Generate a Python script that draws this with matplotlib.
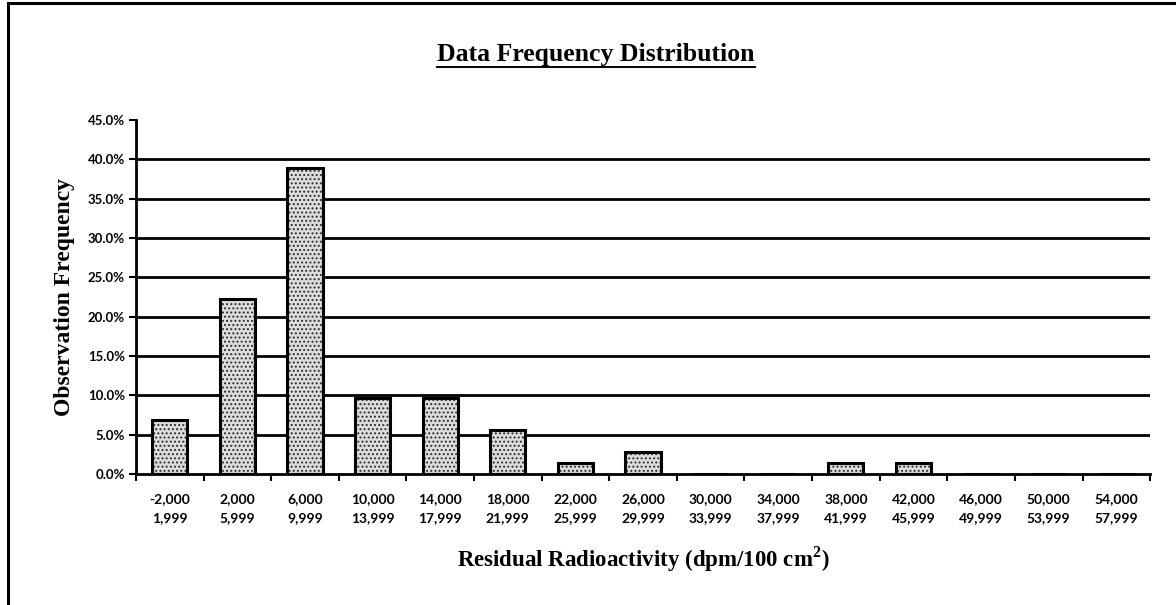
import matplotlib

matplotlib.use("Agg")
import matplotlib.pyplot as plt
from matplotlib.lines import Line2D
from matplotlib.patches import Rectangle

# Bin labels (lower / upper bound of each 4,000 dpm bin)
bin_low = ["-2,000", "2,000", "6,000", "10,000", "14,000", "18,000", "22,000",
           "26,000", "30,000", "34,000", "38,000", "42,000", "46,000",
           "50,000", "54,000"]
bin_high = ["1,999", "5,999", "9,999", "13,999", "17,999", "21,999", "25,999",
            "29,999", "33,999", "37,999", "41,999", "45,999", "49,999",
            "53,999", "57,999"]
# Observation frequency per bin, in percent
freq = [6.9, 22.2, 38.9, 9.7, 9.7, 5.6, 1.4, 2.8, 0.0, 0.0, 1.4, 1.4,
        0.0, 0.0, 0.0]
y_ticks = [0, 5, 10, 15, 20, 25, 30, 35, 40, 45]

serif = "Liberation Serif"
tickfont = "Lato"
plt.rcParams["hatch.linewidth"] = 0.9
plt.rcParams["mathtext.fontset"] = "custom"
plt.rcParams["mathtext.bf"] = "Liberation Serif:bold"
plt.rcParams["mathtext.rm"] = "Liberation Serif:bold"

fig = plt.figure(figsize=(11.76, 6.05), dpi=100)
ax = fig.add_axes([0.1156, 0.2165, 0.8624, 0.5852])

x = list(range(len(freq)))

# gridlines behind the bars, skipping the top one
for v in y_ticks[1:-1]:
    ax.axhline(v, color="black", lw=2.0, zorder=1)

# stippled fill, then a heavy outline on top
ax.bar(x, freq, width=0.52, facecolor="#dcdcdc", edgecolor="#2a2a2a",
       hatch="....", linewidth=0, zorder=2)
ax.bar(x, freq, width=0.52, facecolor="none", edgecolor="black",
       linewidth=2.2, zorder=3)

ax.set_xlim(-0.5, len(freq) - 0.5)
ax.set_ylim(0, 45)

ax.set_yticks(y_ticks)
ax.set_yticklabels([f"{v:.1f}%" for v in y_ticks], fontsize=9.5,
                   fontweight="bold", family=tickfont)
ax.tick_params(axis="y", direction="out", length=5, width=1.5, pad=3)

ax.set_xticks(x)
ax.set_xticklabels([f"{lo}\n{hi}" for lo, hi in zip(bin_low, bin_high)],
                   fontsize=10, fontweight="bold", family=tickfont,
                   linespacing=1.65)
ax.tick_params(axis="x", which="major", length=0, pad=14)
ax.set_xticks([i + 0.5 for i in range(-1, len(freq))], minor=True)
ax.tick_params(axis="x", which="minor", direction="out", length=5, width=1.5)

for side in ("top", "right"):
    ax.spines[side].set_visible(False)
for side in ("left", "bottom"):
    ax.spines[side].set_linewidth(2.0)

ax.set_ylabel("Observation Frequency", family=serif, fontweight="bold",
              fontsize=17, labelpad=9)
ax.set_xlabel(r"Residual Radioactivity (dpm/100 cm$^{\mathbf{2}}$)",
              family=serif, fontweight="bold", fontsize=16.5, labelpad=15)

title = fig.text(0.507, 0.9, "Data Frequency Distribution", family=serif,
                 fontweight="bold", fontsize=18.5, ha="center", va="baseline")

# page border (only the top and left edges fall inside the image)
fig.patches.append(Rectangle((0.0068, -0.5), 1.2, 1.495, transform=fig.transFigure,
                             fill=False, edgecolor="black", linewidth=2.2))

# underline under the title
fig.canvas.draw()
bb = title.get_window_extent().transformed(fig.transFigure.inverted())
fig.lines.append(Line2D([bb.x0, bb.x1], [bb.y0 - 0.003, bb.y0 - 0.003],
                        transform=fig.transFigure, color="black", lw=1.4))

fig.savefig("out.png", dpi=100)
